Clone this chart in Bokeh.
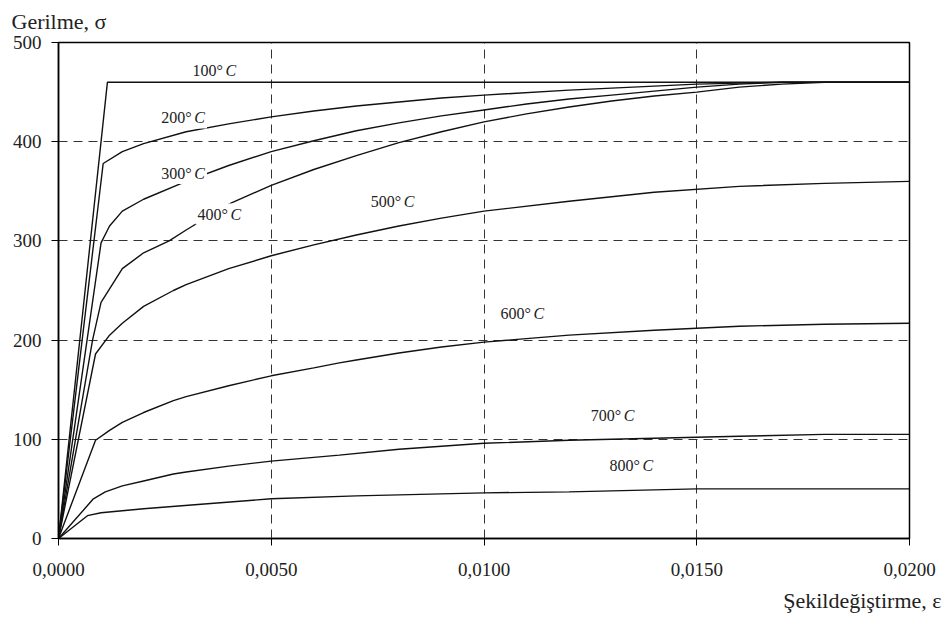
from bokeh.plotting import figure
from bokeh.models import Range1d, FixedTicker, Label, Title, CustomJSTickFormatter
from bokeh.embed import file_html
from bokeh.resources import INLINE

# Stress-strain curves of steel at elevated temperatures
eps_100 = [0, 0.00115, 0.020]
sig_100 = [0, 460, 460]

eps_200 = [0, 0.00105, 0.0015, 0.002, 0.003, 0.004, 0.005, 0.006, 0.007, 0.008,
           0.009, 0.010, 0.012, 0.014, 0.015, 0.016, 0.017, 0.020]
sig_200 = [0, 378, 390, 398, 410, 418, 425, 431, 436, 440,
           444, 447, 452, 456, 458, 459, 460, 460]

eps_300 = [0, 0.001, 0.0012, 0.0015, 0.002, 0.003, 0.004, 0.005, 0.006, 0.007, 0.008,
           0.009, 0.010, 0.011, 0.012, 0.013, 0.014, 0.015, 0.016, 0.017, 0.020]
sig_300 = [0, 298, 315, 330, 342, 360, 376, 390, 401, 411, 419,
           426, 432, 438, 443, 447, 451, 455, 458, 460, 460]

eps_400 = [0, 0.0008, 0.001, 0.0015, 0.002, 0.0026, 0.003, 0.004, 0.005, 0.006, 0.007,
           0.008, 0.009, 0.010, 0.011, 0.012, 0.013, 0.014, 0.015, 0.016, 0.017, 0.018, 0.020]
sig_400 = [0, 200, 238, 272, 288, 300, 311, 337, 356, 372, 386,
           399, 410, 420, 428, 435, 441, 446, 450, 455, 458, 460, 460]

eps_500 = [0, 0.00087, 0.0012, 0.0015, 0.002, 0.0027, 0.003, 0.004, 0.005, 0.006, 0.007,
           0.008, 0.009, 0.010, 0.012, 0.014, 0.016, 0.018, 0.020]
sig_500 = [0, 186, 205, 217, 234, 250, 256, 272, 285, 296, 306,
           315, 323, 330, 340, 349, 355, 358, 360]

eps_600 = [0, 0.00087, 0.0012, 0.0015, 0.002, 0.0027, 0.003, 0.004, 0.005, 0.006, 0.0066,
           0.007, 0.008, 0.009, 0.010, 0.012, 0.014, 0.016, 0.018, 0.020]
sig_600 = [0, 99, 109, 117, 127, 139, 143, 154, 164, 172, 177,
           180, 187, 193, 198, 205, 210, 214, 216, 217]

eps_700 = [0, 0.00082, 0.0011, 0.0015, 0.002, 0.0027, 0.003, 0.004, 0.005, 0.0066,
           0.008, 0.010, 0.012, 0.014, 0.015, 0.016, 0.018, 0.020]
sig_700 = [0, 40, 47, 53, 58, 65, 67, 73, 78, 84,
           90, 96, 99, 101, 102, 103, 105, 105]

eps_800 = [0, 0.00068, 0.001, 0.0015, 0.002, 0.0035, 0.005, 0.007, 0.010, 0.012,
           0.015, 0.018, 0.020]
sig_800 = [0, 23, 26, 28, 30, 35, 40, 43, 46, 47,
           50, 50, 50]

curves = [(eps_100, sig_100), (eps_200, sig_200), (eps_300, sig_300), (eps_400, sig_400),
          (eps_500, sig_500), (eps_600, sig_600), (eps_700, sig_700), (eps_800, sig_800)]

# Temperature labels and where they sit
temperatures = ["100", "200", "300", "400", "500", "600", "700", "800"]
label_eps = [0.00310, 0.00237, 0.00237, 0.00322, 0.00729, 0.01034, 0.01246, 0.01290]
label_sig = [472, 424, 368, 327, 340, 227, 124, 74]

x_ticks = [0, 0.005, 0.010, 0.015, 0.020]
y_ticks = [0, 100, 200, 300, 400, 500]
x_grid = [0.005, 0.010, 0.015]
y_grid = [100, 200, 300, 400]

y_title = "Gerilme, \u03c3"
x_title = "\u015eekilde\u011fi\u015ftirme, \u03b5"

SERIF = "Liberation Serif"
INK = "#222222"

p = figure(width=944, height=624, output_backend="svg", toolbar_location=None,
           x_range=Range1d(0, 0.02), y_range=Range1d(0, 500),
           min_border_left=58, min_border_right=35, min_border_top=42, min_border_bottom=86)
p.background_fill_color = "white"
p.border_fill_color = "white"
p.outline_line_color = "black"
p.outline_line_width = 1.5
p.outline_line_alpha = 1

for eps, sig in curves:
    p.line(eps, sig, line_color="#111111", line_width=1.4)

# dashed grid
p.xgrid.ticker = FixedTicker(ticks=x_grid)
p.ygrid.ticker = FixedTicker(ticks=y_grid)
for g in (p.xgrid, p.ygrid):
    g.grid_line_color = "#333333"
    g.grid_line_dash = "9 6"
    g.grid_line_width = 1

# axes
p.xaxis.ticker = FixedTicker(ticks=x_ticks)
p.yaxis.ticker = FixedTicker(ticks=y_ticks)
p.xaxis.formatter = CustomJSTickFormatter(code="return tick.toFixed(4).replace('.', ',');")
for ax in (p.xaxis, p.yaxis):
    ax.axis_line_color = "black"
    ax.axis_line_width = 1.5
    ax.major_tick_line_color = "black"
    ax.major_tick_line_width = 1
    ax.major_tick_in = 0
    ax.major_tick_out = 7
    ax.minor_tick_line_color = None
    ax.major_label_text_font = SERIF
    ax.major_label_text_font_size = "19px"
    ax.major_label_text_color = INK
p.xaxis.major_label_standoff = 17
p.yaxis.major_label_standoff = 10

# curve labels, e.g. "300° C"
for t, lx, ly in zip(temperatures, label_eps, label_sig):
    p.add_layout(Label(x=lx, y=ly, text=f"{t}\u00b0", text_font=SERIF, text_font_size="16px",
                       text_baseline="middle", text_align="left", text_color=INK,
                       background_fill_color="white", padding=2))
    p.add_layout(Label(x=lx, y=ly, x_offset=33, text="C", text_font=SERIF, text_font_size="16px",
                       text_font_style="italic", text_baseline="middle", text_align="left",
                       text_color=INK, background_fill_color="white", padding=2))

# axis titles: stress at the top left, strain at the bottom right
p.add_layout(Title(text=y_title, align="left", offset=-47, standoff=14, vertical_align="top",
                   text_font=SERIF, text_font_size="22px", text_font_style="normal",
                   text_color=INK), "above")
p.add_layout(Title(text=x_title, align="right", offset=-32, standoff=14, vertical_align="bottom",
                   text_font=SERIF, text_font_size="22px", text_font_style="normal",
                   text_color=INK), "below")

open("out.html", "w").write(file_html(p, INLINE))
